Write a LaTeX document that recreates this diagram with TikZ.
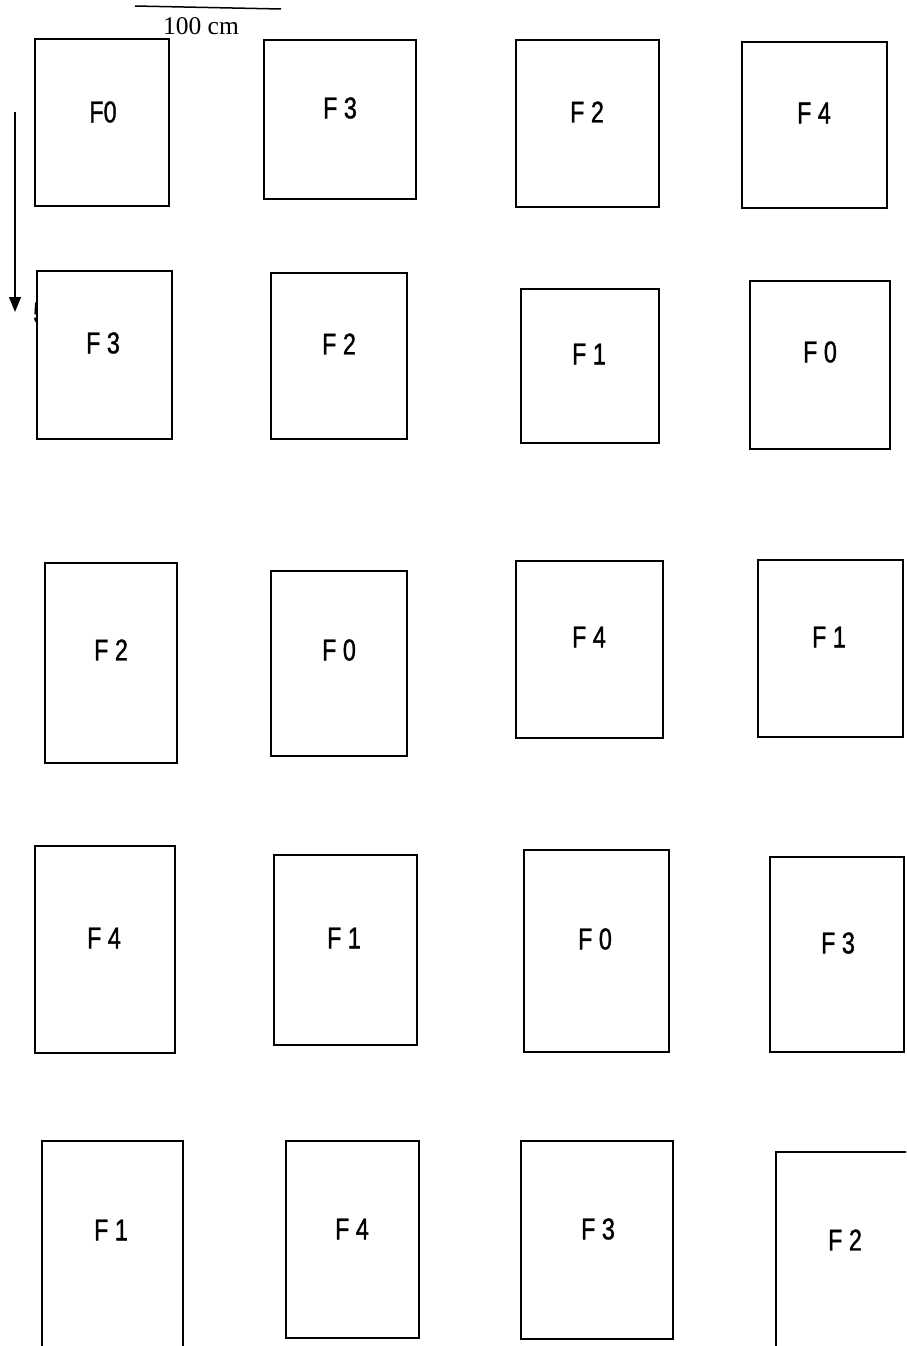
\documentclass[tikz,border=0pt]{standalone}
\usepackage{fontspec}
\setmainfont{Liberation Serif}
\newfontfamily\tagfont[FakeStretch=0.78,FakeBold=1.2]{Liberation Sans}
\usetikzlibrary{arrows.meta}

\begin{document}
\begin{tikzpicture}[x=1pt,y=-1pt,
        plot/.style={draw=black,fill=white,line width=2.2pt},
        tag/.style={font=\tagfont\fontsize{30}{30}\selectfont,inner sep=0pt}]
        \clip (0,0) rectangle (906,1346);
        % Scale bar and direction arrow in the top left corner.
        \coordinate (barl) at (135,6);
        \coordinate (barr) at (281,9);
        \draw[line width=1.5pt] (barl) -- (barr);
        \node[font=\fontsize{25.5}{25.5}\selectfont,inner sep=0pt] (barlabel) at (201,26) {100 cm};
        \coordinate (arrtop) at (15,112);
        \coordinate (arrbot) at (15,312);
        \draw[line width=1.2pt,-{Triangle[width=12pt,length=15pt]}] (arrtop) -- (arrbot);
        \node[tag,font=\tagfont\bfseries\fontsize{30}{30}\selectfont] (arrlabel) at (40,313) {5};
        % Row 1
        \draw[plot] (35,39) rectangle (169,206);
        \node[tag] (p11) at (103,112) {F0};
        \draw[plot] (264,40) rectangle (416,199);
        \node[tag] (p12) at (340,108) {F 3};
        \draw[plot] (516,40) rectangle (659,207);
        \node[tag] (p13) at (587,112) {F 2};
        \draw[plot] (742,42) rectangle (887,208);
        \node[tag] (p14) at (814,113) {F 4};
        % Row 2
        \draw[plot] (37,271) rectangle (172,439);
        \node[tag] (p21) at (103,343) {F 3};
        \draw[plot] (271,273) rectangle (407,439);
        \node[tag] (p22) at (339,344) {F 2};
        \draw[plot] (521,289) rectangle (659,443);
        \node[tag] (p23) at (589,354) {F 1};
        \draw[plot] (750,281) rectangle (890,449);
        \node[tag] (p24) at (820,352) {F 0};
        % Row 3
        \draw[plot] (45,563) rectangle (177,763);
        \node[tag] (p31) at (111,650) {F 2};
        \draw[plot] (271,571) rectangle (407,756);
        \node[tag] (p32) at (339,650) {F 0};
        \draw[plot] (516,561) rectangle (663,738);
        \node[tag] (p33) at (589,637) {F 4};
        \draw[plot] (758,560) rectangle (903,737);
        \node[tag] (p34) at (829,637) {F 1};
        % Row 4
        \draw[plot] (35,846) rectangle (175,1053);
        \node[tag] (p41) at (104,938) {F 4};
        \draw[plot] (274,855) rectangle (417,1045);
        \node[tag] (p42) at (344,938) {F 1};
        \draw[plot] (524,850) rectangle (669,1052);
        \node[tag] (p43) at (595,939) {F 0};
        \draw[plot] (770,857) rectangle (904,1052);
        \node[tag] (p44) at (838,943) {F 3};
        % Row 5 (runs off the sheet)
        \draw[plot] (42,1141) rectangle (183,1352);
        \node[tag] (p51) at (111,1230) {F 1};
        \draw[plot] (286,1141) rectangle (419,1338);
        \node[tag] (p52) at (352,1229) {F 4};
        \draw[plot] (521,1141) rectangle (673,1339);
        \node[tag] (p53) at (598,1229) {F 3};
        \draw[plot] (776,1152) rectangle (912,1352);
        \node[tag] (p54) at (845,1240) {F 2};
      \end{tikzpicture}
\end{document}
